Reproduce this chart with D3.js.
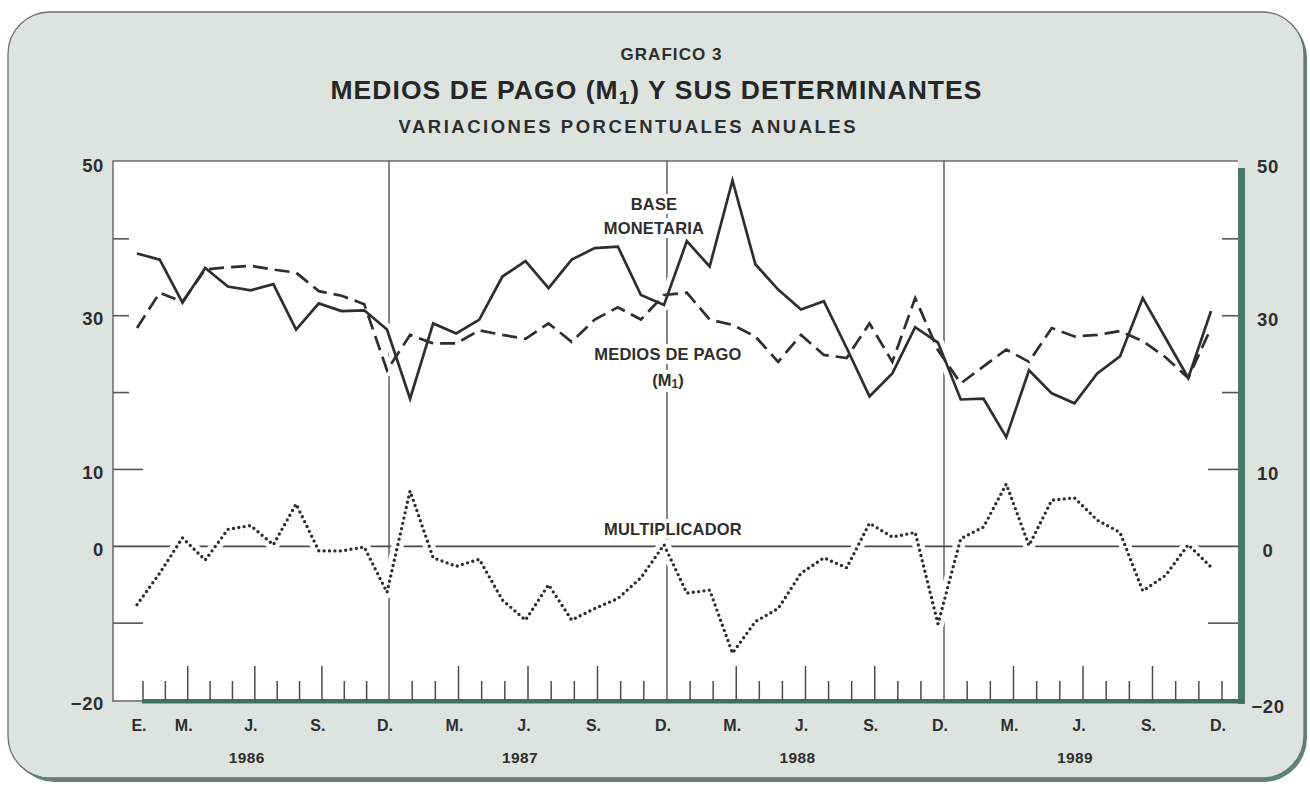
<!DOCTYPE html>
<html><head><meta charset="utf-8">
<script src="https://cdn.jsdelivr.net/npm/d3@7"></script>
<style>body{margin:0;background:#fff;} svg{display:block;}</style>
</head><body>
<script>
// ---- DATA (annual % variations, monthly, Jan 1986 - Dec 1989) ----
const years = [1986, 1987, 1988, 1989];
const baseMonetaria = [
  38.1, 37.3, 31.7, 36.2, 33.8, 33.3, 34.1, 28.2, 31.6, 30.6, 30.7, 28.2,
  19.2, 29.0, 27.7, 29.5, 35.1, 37.1, 33.6, 37.3, 38.8, 39.0, 32.7, 31.4,
  39.7, 36.4, 47.6, 36.7, 33.4, 30.8, 31.9, 25.8, 19.5, 22.5, 28.5, 26.5,
  19.1, 19.2, 14.2, 22.9, 19.9, 18.6, 22.5, 24.7, 32.3, 27.1, 21.9, 30.6
];
const mediosDePago = [
  28.4, 33.0, 31.8, 36.0, 36.3, 36.5, 36.0, 35.6, 33.2, 32.6, 31.5, 22.9,
  27.5, 26.4, 26.4, 28.1, 27.5, 27.0, 29.0, 26.6, 29.5, 31.1, 29.5, 32.7,
  33.0, 29.5, 28.8, 27.3, 24.0, 27.5, 24.9, 24.5, 29.0, 24.0, 32.3, 25.5,
  21.2, 23.4, 25.6, 24.0, 28.4, 27.3, 27.5, 28.0, 26.7, 24.6, 21.9, 28.4
];
const multiplicador = [
  -7.6, -3.5, 1.1, -1.8, 2.2, 2.7, 0.2, 5.5, -0.6, -0.6, -0.1, -6.0,
  7.2, -1.5, -2.6, -1.7, -7.0, -9.6, -5.0, -9.6, -8.1, -6.8, -4.1, 0.2,
  -6.1, -5.7, -13.9, -9.8, -8.1, -3.5, -1.5, -2.8, 3.0, 1.2, 1.8, -10.1,
  1.0, 2.5, 8.1, 0.1, 6.0, 6.3, 3.4, 1.8, -5.8, -3.8, 0.2, -2.7
];
const yTickLabels = [50, 30, 10, 0, -20];
const yTickMarks = [40, 30, 20, 10, -10];
const monthLabelIndex = [0, 2, 5, 8, 11, 14, 17, 20, 23, 26, 29, 32, 35, 38, 41, 44, 47];
const monthLabelText = ["E.", "M.", "J.", "S.", "D.", "M.", "J.", "S.", "D.", "M.", "J.", "S.", "D.", "M.", "J.", "S.", "D."];
const longTickMonths = [2, 5, 8]; // within each year (Mar, Jun, Sep)
const separatorMonths = [11, 23, 35];

// ---- LAYOUT ----
const W = 1310, H = 786;
const plot = {l: 113, t: 161, r: 1238, b: 700};
const ink = "#2e2e2e";

const svg = d3.select("body").append("svg").attr("width", W).attr("height", H);

// scales
const idx = d3.range(48);
const x = d3.scaleLinear().domain([0, 11, 23, 35, 47]).range([137, 387, 664, 938, 1211]);
const xt = d3.scaleLinear().domain([0, 11, 23, 35, 47]).range([143, 389, 667, 944, 1222]);
const y = d3.scaleLinear().domain([-20, 50]).range([plot.b, 162]);

// panel background
svg.append("rect").attr("x", 11).attr("y", 14).attr("width", W - 14).attr("height", H - 18)
  .attr("rx", 44).attr("fill", "#5a8677");
svg.append("rect").attr("x", 8).attr("y", 12).attr("width", W - 14).attr("height", H - 20)
  .attr("rx", 42).attr("fill", "#dde4e0").attr("stroke", "#707070").attr("stroke-width", 1.3);

// plot area + shadow
svg.append("rect").attr("x", plot.r).attr("y", plot.t + 7).attr("width", 7).attr("height", plot.b - plot.t - 3)
  .attr("fill", "#4a7a6b");
svg.append("rect").attr("x", plot.l).attr("y", plot.t).attr("width", plot.r - plot.l).attr("height", plot.b - plot.t)
  .attr("fill", "#ffffff");
svg.append("path").attr("d", `M${plot.l},${plot.b + 2}V${plot.t}H${plot.r}`)
  .attr("fill", "none").attr("stroke", "#6a6a6a").attr("stroke-width", 1.5);
svg.append("line").attr("x1", plot.l).attr("x2", xt(0)).attr("y1", plot.b + 1).attr("y2", plot.b + 1)
  .attr("stroke", "#6a6a6a").attr("stroke-width", 1.5);
svg.append("rect").attr("x", xt(0) - 1).attr("y", plot.b - 1).attr("width", plot.r + 7 - xt(0) + 1).attr("height", 4.5)
  .attr("fill", "#3f6f61");

// y tick marks, both sides
const tickLen = v => (v === 10 || v === -10) ? 30 : 16;
svg.append("g").selectAll("line").data(yTickMarks).join("line")
  .attr("x1", plot.l).attr("x2", d => plot.l + tickLen(d))
  .attr("y1", d => y(d)).attr("y2", d => y(d))
  .attr("stroke", "#555").attr("stroke-width", 1.6);
svg.append("g").selectAll("line").data(yTickMarks).join("line")
  .attr("x1", plot.r).attr("x2", d => plot.r - tickLen(d))
  .attr("y1", d => y(d)).attr("y2", d => y(d))
  .attr("stroke", "#555").attr("stroke-width", 1.6);

// month ticks
svg.append("g").selectAll("line").data(idx.filter(i => !separatorMonths.includes(i))).join("line")
  .attr("x1", d => xt(d)).attr("x2", d => xt(d))
  .attr("y1", plot.b).attr("y2", d => plot.b - (longTickMonths.includes(d % 12) ? 34 : 19))
  .attr("stroke", "#4a4a4a").attr("stroke-width", 1.5);

// zero line
svg.append("line").attr("x1", plot.l).attr("x2", plot.r).attr("y1", y(0)).attr("y2", y(0))
  .attr("stroke", "#4a4a4a").attr("stroke-width", 1.8);

// year separators
svg.append("g").selectAll("line").data(separatorMonths).join("line")
  .attr("x1", d => xt(d)).attr("x2", d => xt(d)).attr("y1", plot.t).attr("y2", plot.b)
  .attr("stroke", "#555").attr("stroke-width", 1.4);

// series labels with knock-out backgrounds
const labelFont = "'Liberation Sans', Arial, sans-serif";
const inlineLabels = [
  {lines: ["BASE", "MONETARIA"], cx: 654, cy: [204, 228]},
  {lines: ["MEDIOS DE PAGO"], cx: 668, cy: [354]},
  {lines: ["MULTIPLICADOR"], cx: 673, cy: [529]}
];
const knock = svg.append("g");

// halos + series
const line = d3.line().x((d, i) => x(i)).y(d => y(d));
const series = [
  {data: baseMonetaria, dash: null, w: 2.7, cap: "butt"},
  {data: mediosDePago, dash: "15 7", w: 2.7, cap: "butt"},
  {data: multiplicador, dash: "0 5.4", w: 3.4, cap: "round"}
];
svg.append("g").selectAll("path").data(series).join("path")
  .attr("d", d => line(d.data)).attr("fill", "none")
  .attr("stroke", "#fff").attr("stroke-width", 12).attr("stroke-linejoin", "round");
svg.append("g").selectAll("path").data(series).join("path")
  .attr("d", d => line(d.data)).attr("fill", "none")
  .attr("stroke", ink).attr("stroke-width", d => d.w)
  .attr("stroke-dasharray", d => d.dash).attr("stroke-linecap", d => d.cap)
  .attr("stroke-linejoin", "miter");

const labG = svg.append("g");
// inline labels text
inlineLabels.forEach(L => {
  L.lines.forEach((t, k) => {
    const tx = labG.append("text").attr("x", L.cx).attr("y", L.cy[k]).attr("text-anchor", "middle")
      .attr("dominant-baseline", "central")
      .attr("font-family", labelFont).attr("font-weight", "bold").attr("font-size", 16.5)
      .attr("letter-spacing", 0.2).attr("fill", ink).text(t);
    const bb = tx.node().getBBox();
    knock.append("rect").attr("x", bb.x - 4).attr("y", bb.y - 1).attr("width", bb.width + 8).attr("height", bb.height + 2)
      .attr("fill", "#fff");
  });
});
// (M1) label
const m1 = labG.append("text").attr("x", 668).attr("y", 380).attr("text-anchor", "middle")
  .attr("dominant-baseline", "central").attr("font-family", labelFont).attr("font-weight", "bold")
  .attr("font-size", 16.5).attr("fill", ink);
m1.append("tspan").text("(M");
m1.append("tspan").attr("font-size", 12).attr("dy", 4).text("1");
m1.append("tspan").attr("dy", -4).text(")");
{ const bb = m1.node().getBBox();
  knock.append("rect").attr("x", bb.x - 4).attr("y", bb.y - 1).attr("width", bb.width + 8).attr("height", bb.height + 2).attr("fill", "#fff"); }

// y axis labels
const axFont = "'Liberation Sans', Arial, sans-serif";
const fmt = v => v < 0 ? "\u2212" + Math.abs(v) : String(v);
svg.append("g").selectAll("text").data(yTickLabels).join("text")
  .attr("x", 104).attr("y", d => y(d) + 3).attr("text-anchor", "end").attr("dominant-baseline", "central")
  .attr("font-family", axFont).attr("font-weight", "bold").attr("font-size", 18.5).attr("letter-spacing", 0.6)
  .attr("fill", ink).text(fmt);
svg.append("g").selectAll("text").data(yTickLabels).join("text")
  .attr("x", 1268).attr("y", d => y(d) + (d === -20 ? 6 : 4)).attr("text-anchor", "middle").attr("dominant-baseline", "central")
  .attr("font-family", axFont).attr("font-weight", "bold").attr("font-size", 18.5).attr("letter-spacing", 0.6)
  .attr("fill", ink).text(fmt);

// month labels
svg.append("g").selectAll("text").data(monthLabelIndex).join("text")
  .attr("x", d => xt(d) - 4).attr("y", 725).attr("text-anchor", "middle").attr("dominant-baseline", "central")
  .attr("font-family", axFont).attr("font-weight", "bold").attr("font-size", 16).attr("fill", ink)
  .text((d, i) => monthLabelText[i]);
// year labels
svg.append("g").selectAll("text").data(years).join("text")
  .attr("x", (d, i) => xt(5 + 12 * i) - 8).attr("y", 757).attr("text-anchor", "middle").attr("dominant-baseline", "central")
  .attr("font-family", axFont).attr("font-weight", "bold").attr("font-size", 15.5).attr("letter-spacing", 0.4)
  .attr("fill", ink).text(d => d);

// titles
svg.append("text").attr("x", 671).attr("y", 60).attr("text-anchor", "middle")
  .attr("font-family", axFont).attr("font-size", 17).attr("font-weight", "bold").attr("fill", ink)
  .attr("textLength", 101).attr("lengthAdjust", "spacing").text("GRAFICO 3");
const tt = svg.append("text").attr("x", 656).attr("y", 99).attr("text-anchor", "middle")
  .attr("font-family", axFont).attr("font-weight", "bold").attr("font-size", 26.5).attr("fill", "#262626")
  .attr("textLength", 651).attr("lengthAdjust", "spacing");
tt.append("tspan").text("MEDIOS DE PAGO (M");
tt.append("tspan").attr("font-size", 19).attr("dy", 5).text("1");
tt.append("tspan").attr("dy", -5).text(") Y SUS DETERMINANTES");
svg.append("text").attr("x", 627).attr("y", 133).attr("text-anchor", "middle")
  .attr("font-family", axFont).attr("font-size", 18.5).attr("fill", ink).attr("font-weight", "bold")
  .attr("textLength", 457).attr("lengthAdjust", "spacing").text("VARIACIONES PORCENTUALES ANUALES");
</script>
</body></html>
